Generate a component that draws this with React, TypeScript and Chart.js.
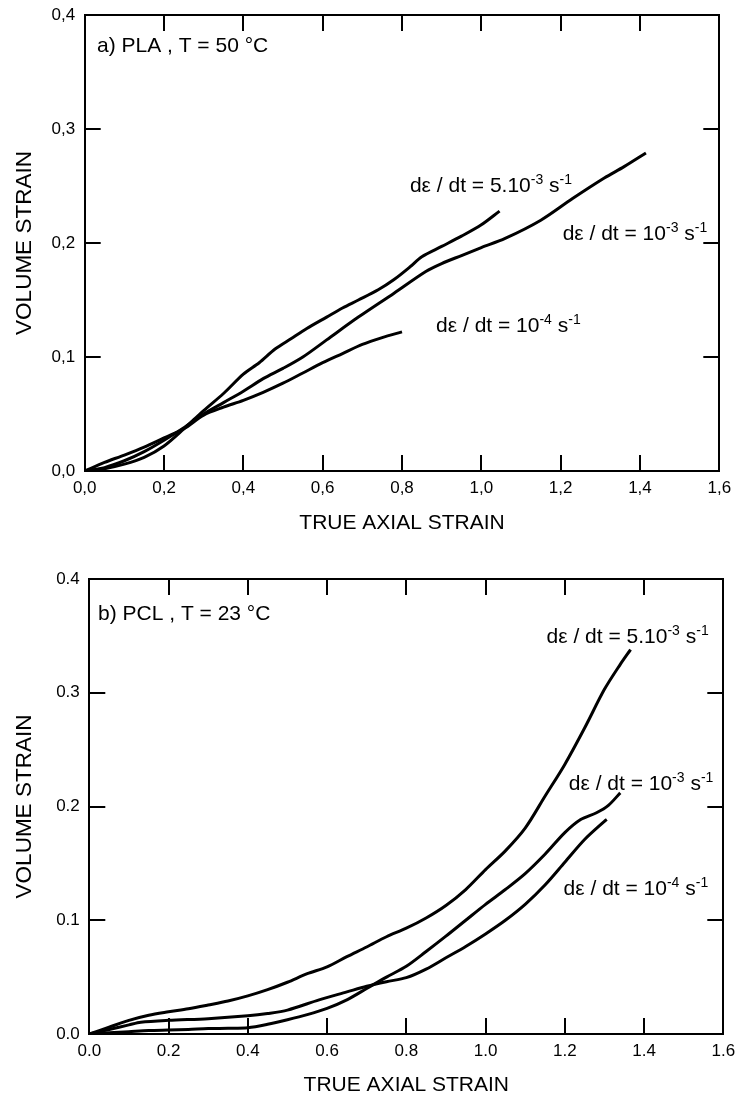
import { useEffect, useRef } from 'react';
import { Chart, registerables } from 'chart.js';

Chart.register(...registerables);

const FONT = '"Liberation Sans", Arial, Helvetica, sans-serif';

// ---------- tick labels ----------
const plaXTickLabels = ['0,0', '0,2', '0,4', '0,6', '0,8', '1,0', '1,2', '1,4', '1,6'];
const plaYTickLabels = ['0,0', '0,1', '0,2', '0,3', '0,4'];
const pclXTickLabels = ['0.0', '0.2', '0.4', '0.6', '0.8', '1.0', '1.2', '1.4', '1.6'];
const pclYTickLabels = ['0.0', '0.1', '0.2', '0.3', '0.4'];

// ---------- panel a) PLA, T = 50 °C ----------
const plaFastX = [0, 0.05, 0.1, 0.15, 0.2, 0.25, 0.3, 0.35, 0.4, 0.44, 0.48, 0.52, 0.56, 0.61, 0.65, 0.69, 0.74, 0.78, 0.82, 0.85, 0.9, 0.95, 1.0, 1.046];
const plaFastY = [0, 0.002, 0.006, 0.012, 0.022, 0.037, 0.053, 0.068, 0.085, 0.095, 0.107, 0.116, 0.125, 0.135, 0.143, 0.15, 0.159, 0.168, 0.179, 0.188, 0.197, 0.206, 0.216, 0.228];

const plaMidX = [0, 0.05, 0.1, 0.15, 0.2, 0.25, 0.3, 0.35, 0.4, 0.45, 0.5, 0.55, 0.61, 0.69, 0.78, 0.86, 0.9, 0.95, 1.0, 1.06, 1.15, 1.23, 1.31, 1.36, 1.415];
const plaMidY = [0, 0.003, 0.009, 0.017, 0.027, 0.038, 0.05, 0.06, 0.07, 0.081, 0.09, 0.1, 0.115, 0.135, 0.156, 0.175, 0.182, 0.189, 0.196, 0.204, 0.22, 0.239, 0.257, 0.267, 0.279];

const plaSlowX = [0, 0.05, 0.1, 0.15, 0.2, 0.25, 0.3, 0.35, 0.4, 0.45, 0.5, 0.55, 0.6, 0.65, 0.7, 0.75, 0.8];
const plaSlowY = [0, 0.0075, 0.014, 0.021, 0.029, 0.037, 0.049, 0.056, 0.062, 0.069, 0.077, 0.086, 0.095, 0.103, 0.111, 0.117, 0.122];

// ---------- panel b) PCL, T = 23 °C ----------
const pclFastX = [0, 0.05, 0.1, 0.15, 0.2, 0.25, 0.3, 0.35, 0.4, 0.45, 0.5, 0.55, 0.6, 0.65, 0.7, 0.75, 0.8, 0.85, 0.9, 0.95, 1.0, 1.05, 1.1, 1.15, 1.2, 1.25, 1.3, 1.34, 1.366];
const pclFastY = [0, 0.006, 0.012, 0.0165, 0.0195, 0.0222, 0.0255, 0.029, 0.0335, 0.039, 0.0455, 0.053, 0.059, 0.068, 0.0765, 0.0855, 0.093, 0.102, 0.113, 0.127, 0.1445, 0.161, 0.181, 0.209, 0.237, 0.269, 0.303, 0.325, 0.338];

const pclMidX = [0, 0.05, 0.1, 0.15, 0.2, 0.25, 0.3, 0.35, 0.4, 0.45, 0.5, 0.55, 0.6, 0.65, 0.7, 0.75, 0.8, 0.85, 0.9, 0.95, 1.0, 1.05, 1.1, 1.15, 1.2, 1.24, 1.28, 1.31, 1.34];
const pclMidY = [0, 0.001, 0.002, 0.003, 0.0035, 0.004, 0.0048, 0.005, 0.0055, 0.0085, 0.0125, 0.017, 0.0225, 0.03, 0.04, 0.05, 0.0595, 0.0725, 0.086, 0.1, 0.114, 0.127, 0.141, 0.158, 0.177, 0.1885, 0.1945, 0.201, 0.212];

const pclSlowX = [0, 0.05, 0.1, 0.13, 0.2, 0.3, 0.4, 0.45, 0.5, 0.58, 0.65, 0.7, 0.75, 0.8, 0.85, 0.9, 0.95, 1.0, 1.05, 1.1, 1.15, 1.2, 1.25, 1.3, 1.306];
const pclSlowY = [0, 0.004, 0.008, 0.0103, 0.012, 0.0135, 0.016, 0.018, 0.021, 0.03, 0.037, 0.042, 0.046, 0.0495, 0.057, 0.067, 0.077, 0.088, 0.1, 0.114, 0.131, 0.151, 0.171, 0.187, 0.1885];

type Part = { text: string; sup?: boolean };
type TextItem = { x: number; y: number; parts: Part[] };

const rateLabel = (mantissa: string, exp: string): Part[] => [
  { text: 'd\u03B5 / dt = ' + mantissa },
  { text: exp, sup: true },
  { text: ' s' },
  { text: '-1', sup: true },
];

const curveTextPlugin = {
  id: 'curveText',
  afterDraw(chart: any, _args: any, opts: any) {
    const ctx = chart.ctx as CanvasRenderingContext2D;
    const xs = chart.scales.x;
    const ys = chart.scales.y;
    ctx.save();
    ctx.fillStyle = '#000';
    ctx.textAlign = 'left';
    ctx.textBaseline = 'alphabetic';
    (opts.items as TextItem[]).forEach((item) => {
      let px = xs.getPixelForValue(item.x);
      const py = ys.getPixelForValue(item.y);
      item.parts.forEach((p) => {
        const size = p.sup ? opts.supSize : opts.size;
        ctx.font = `${size}px ${FONT}`;
        ctx.fillText(p.text, px, p.sup ? py - opts.supRise : py);
        px += ctx.measureText(p.text).width;
      });
    });
    ctx.restore();
  },
};

type PanelSpec = {
  series: { x: number[]; y: number[] }[];
  xLabels: string[];
  yLabels: string[];
  texts: TextItem[];
  height: number;
  padTop: number;
  padRight: number;
  yAxisWidth: number;
  xAxisHeight: number;
  xTitlePadBottom: number;
};

const panels: PanelSpec[] = [
  {
    series: [
      { x: plaFastX, y: plaFastY },
      { x: plaMidX, y: plaMidY },
      { x: plaSlowX, y: plaSlowY },
    ],
    xLabels: plaXTickLabels,
    yLabels: plaYTickLabels,
    texts: [
      { x: 0.031, y: 0.3675, parts: [{ text: 'a) PLA , T = 50 \u00B0C' }] },
      { x: 0.82, y: 0.2447, parts: rateLabel('5.10', '-3') },
      { x: 1.205, y: 0.2026, parts: rateLabel('10', '-3') },
      { x: 0.886, y: 0.1222, parts: rateLabel('10', '-4') },
    ],
    height: 552,
    padTop: 15,
    padRight: 15.7,
    yAxisWidth: 84.7,
    xAxisHeight: 81,
    xTitlePadBottom: 16,
  },
  {
    series: [
      { x: pclFastX, y: pclFastY },
      { x: pclMidX, y: pclMidY },
      { x: pclSlowX, y: pclSlowY },
    ],
    xLabels: pclXTickLabels,
    yLabels: pclYTickLabels,
    texts: [
      { x: 0.022, y: 0.364, parts: [{ text: 'b) PCL , T = 23 \u00B0C' }] },
      { x: 1.154, y: 0.3437, parts: rateLabel('5.10', '-3') },
      { x: 1.21, y: 0.2145, parts: rateLabel('10', '-3') },
      { x: 1.197, y: 0.1222, parts: rateLabel('10', '-4') },
    ],
    height: 551,
    padTop: 27,
    padRight: 11.7,
    yAxisWidth: 89.3,
    xAxisHeight: 69,
    xTitlePadBottom: 5,
  },
];

function zeroPadding(s: any) {
  s.paddingLeft = 0;
  s.paddingRight = 0;
  s.paddingTop = 0;
  s.paddingBottom = 0;
}

function makeConfig(p: PanelSpec): any {
  const axisLine = { display: true, color: '#000', width: 2 };
  const tickGrid = {
    drawOnChartArea: false,
    drawTicks: true,
    tickLength: -16,
    color: '#000',
    lineWidth: 2,
  };
  return {
    type: 'line',
    data: {
      datasets: p.series.map((s) => ({
        data: s.x.map((x, i) => ({ x, y: s.y[i] })),
        borderColor: '#000',
        backgroundColor: '#000',
        borderWidth: 3,
        pointRadius: 0,
        tension: 0.3,
        fill: false,
      })),
    },
    plugins: [curveTextPlugin],
    options: {
      animation: false,
      responsive: false,
      devicePixelRatio: 1,
      events: [],
      layout: { padding: { left: 0, right: p.padRight, top: p.padTop, bottom: 0 } },
      plugins: {
        legend: { display: false },
        tooltip: { enabled: false },
        curveText: { items: p.texts, size: 21, supSize: 14, supRise: 8 },
      },
      scales: {
        x: {
          type: 'linear',
          position: 'bottom',
          min: 0,
          max: 1.6,
          ticks: {
            stepSize: 0.2,
            autoSkip: false,
            maxRotation: 0,
            padding: 23,
            color: '#000',
            font: { family: FONT, size: 17 },
            callback: (v: number) => p.xLabels[Math.round(v / 0.2)],
          },
          grid: tickGrid,
          border: axisLine,
          title: {
            display: true,
            text: 'TRUE AXIAL STRAIN',
            color: '#000',
            font: { family: FONT, size: 21 },
            padding: { top: 0, bottom: p.xTitlePadBottom },
          },
          afterFit: (s: any) => {
            s.height = p.xAxisHeight;
            zeroPadding(s);
          },
        },
        x2: {
          type: 'linear',
          position: 'top',
          min: 0,
          max: 1.6,
          ticks: { display: false, stepSize: 0.2 },
          grid: tickGrid,
          border: axisLine,
          afterFit: (s: any) => {
            s.height = 0;
            zeroPadding(s);
          },
        },
        y: {
          type: 'linear',
          position: 'left',
          min: 0,
          max: 0.4,
          ticks: {
            stepSize: 0.1,
            padding: 25.5,
            color: '#000',
            font: { family: FONT, size: 17 },
            callback: (v: number) => p.yLabels[Math.round(v / 0.1)],
          },
          grid: tickGrid,
          border: axisLine,
          title: {
            display: true,
            text: 'VOLUME STRAIN',
            color: '#000',
            font: { family: FONT, size: 22.5 },
            padding: { top: 11, bottom: 0 },
          },
          afterFit: (s: any) => {
            s.width = p.yAxisWidth;
            zeroPadding(s);
          },
        },
        y2: {
          type: 'linear',
          position: 'right',
          min: 0,
          max: 0.4,
          ticks: { display: false, stepSize: 0.1 },
          grid: tickGrid,
          border: axisLine,
          afterFit: (s: any) => {
            s.width = 0;
            zeroPadding(s);
          },
        },
      },
    },
  };
}

function Panel({ spec, top }: { spec: PanelSpec; top: number }) {
  const ref = useRef<HTMLCanvasElement>(null);
  useEffect(() => {
    if (!ref.current) return;
    const chart = new Chart(ref.current, makeConfig(spec));
    return () => chart.destroy();
  }, [spec]);
  return (
    <canvas
      ref={ref}
      width={735}
      height={spec.height}
      style={{ position: 'absolute', left: 0, top, width: 735, height: spec.height, display: 'block' }}
    />
  );
}

export default function App() {
  return (
    <div style={{ position: 'absolute', left: 0, top: 0, width: 735, height: 1103, background: '#fff' }}>
      <Panel spec={panels[0]} top={0} />
      <Panel spec={panels[1]} top={552} />
    </div>
  );
}
